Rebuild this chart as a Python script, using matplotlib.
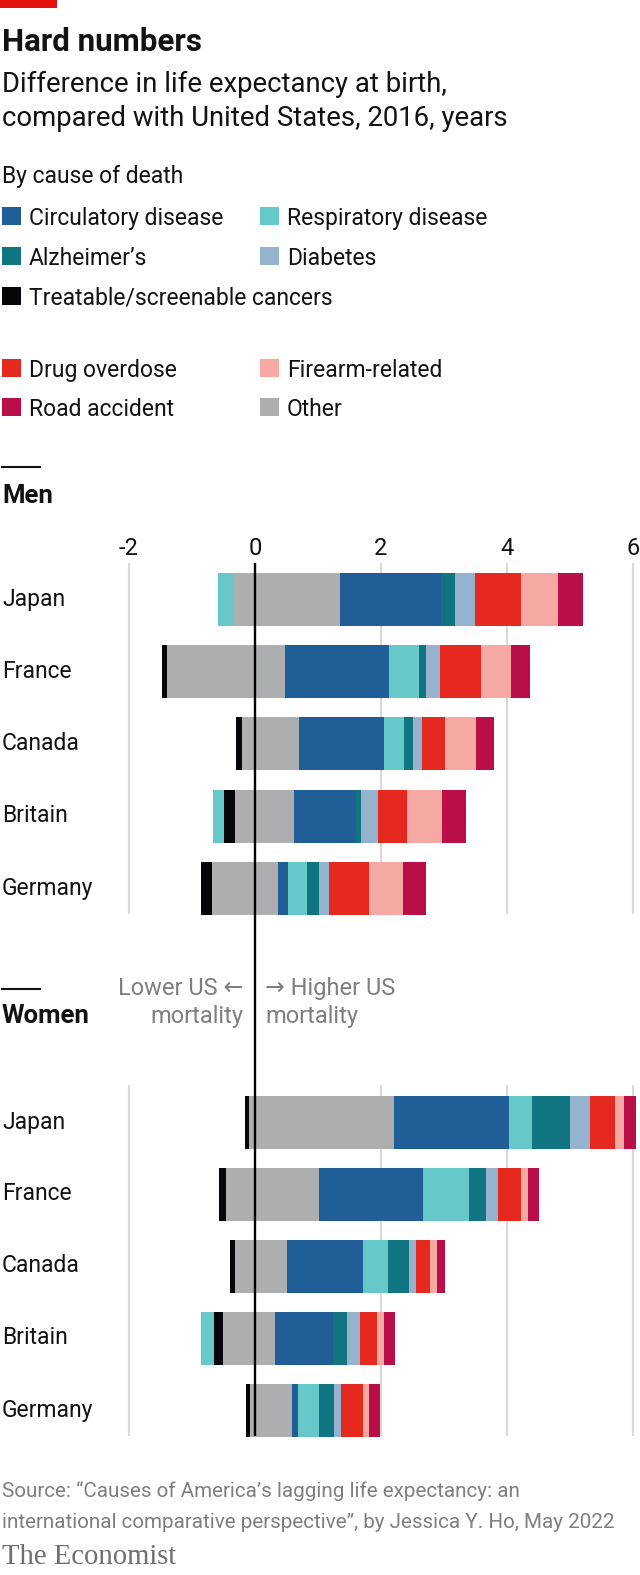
import matplotlib
matplotlib.use("Agg")
import matplotlib.pyplot as plt
from matplotlib.patches import Rectangle
from matplotlib.lines import Line2D
import numpy as np

plt.rcParams["font.family"] = ["Roboto", "DejaVu Sans"]

countries = ["Japan", "France", "Canada", "Britain", "Germany"]

# Men, years of life expectancy gap by cause
circulatory_m = [1.61, 1.65, 1.35, 0.98, 0.155]
respiratory_m = [-0.24, 0.47, 0.31, -0.18, 0.30]
alzheimers_m = [0.22, 0.11, 0.14, 0.09, 0.20]
diabetes_m = [0.31, 0.22, 0.15, 0.27, 0.16]
cancers_m = [0.0, -0.08, -0.10, -0.17, -0.17]
drugs_m = [0.73, 0.65, 0.37, 0.45, 0.63]
firearms_m = [0.59, 0.49, 0.49, 0.56, 0.54]
road_m = [0.39, 0.29, 0.29, 0.38, 0.36]
other_lower_m = [-0.34, -1.40, -0.20, -0.32, -0.69]
other_higher_m = [1.35, 0.48, 0.70, 0.62, 0.365]

# Women
circulatory_w = [1.82, 1.66, 1.20, 0.93, 0.11]
respiratory_w = [0.37, 0.72, 0.40, -0.20, 0.32]
alzheimers_w = [0.60, 0.27, 0.33, 0.22, 0.24]
diabetes_w = [0.31, 0.19, 0.12, 0.21, 0.12]
cancers_w = [-0.06, -0.11, -0.09, -0.14, -0.075]
drugs_w = [0.40, 0.37, 0.22, 0.26, 0.34]
firearms_w = [0.14, 0.11, 0.11, 0.11, 0.10]
road_w = [0.19, 0.17, 0.13, 0.19, 0.17]
other_lower_w = [-0.095, -0.46, -0.31, -0.51, -0.075]
other_higher_w = [2.21, 1.01, 0.51, 0.31, 0.58]

ticks = [-2, 0, 2, 4, 6]

C_CIRC = "#1f5e96"
C_RESP = "#67c8ca"
C_ALZ = "#107580"
C_DIAB = "#95b2ce"
C_CANC = "#06060a"
C_DRUG = "#e6291f"
C_FIRE = "#f6a8a2"
C_ROAD = "#b90e48"
C_OTHER = "#adaeb0"

legend_items = [
    ("Circulatory disease", C_CIRC), ("Respiratory disease", C_RESP),
    ("Alzheimer’s", C_ALZ), ("Diabetes", C_DIAB),
    ("Treatable/screenable cancers", C_CANC), None,
    ("Drug overdose", C_DRUG), ("Firearm-related", C_FIRE),
    ("Road accident", C_ROAD), ("Other", C_OTHER),
]

W, H = 640, 1575
fig = plt.figure(figsize=(W / 100, H / 100), dpi=100)


def fx(x):
    return x / W


def fy(y):
    return 1 - y / H


TXT = "#121212"
GREY_TXT = "#7f7f7f"
FS = 16.5

# header
fig.add_artist(Rectangle((0, fy(8)), fx(57), 8 / H, color="#e3120b",
                         transform=fig.transFigure, lw=0))
fig.text(fx(2), fy(51), "Hard numbers", fontsize=22.5, fontweight="bold",
         color=TXT, va="baseline")
fig.text(fx(2), fy(92), "Difference in life expectancy at birth,",
         fontsize=19.8, color=TXT, va="baseline")
fig.text(fx(2), fy(126), "compared with United States, 2016, years",
         fontsize=19.8, color=TXT, va="baseline")
fig.text(fx(2), fy(183), "By cause of death", fontsize=FS, color=TXT,
         va="baseline")

# legend
row_bottoms = [225, 265, 305, 377, 416]
col_x = [2, 260]
for k, item in enumerate(legend_items):
    if item is None:
        continue
    label, col = item
    r, c = divmod(k, 2)
    yb = row_bottoms[r]
    fig.add_artist(Rectangle((fx(col_x[c]), fy(yb)), fx(19), 18 / H,
                             color=col, transform=fig.transFigure, lw=0))
    fig.text(fx(col_x[c] + 27), fy(yb), label, fontsize=FS, color=TXT,
             va="baseline")

# panel headings
for y_line, y_text, name in [(467, 503, "Men"), (989, 1023, "Women")]:
    fig.add_artist(Line2D([fx(2), fx(40)], [fy(y_line), fy(y_line)],
                          color=TXT, lw=1.5, transform=fig.transFigure))
    fig.text(fx(2), fy(y_text), name, fontsize=18.5, fontweight="bold",
             color=TXT, va="baseline")

# main axes, y in pixel units
y_top, y_bot = 530, 1450
ax = fig.add_axes([0, fy(y_bot), 1, (y_bot - y_top) / H])
ax.set_xlim(-255 / 63, 385 / 63)
ax.set_ylim(y_bot, y_top)
ax.axis("off")

bar_h = 53
step = 72
panels = [
    (600, 563, 914, dict(circ=circulatory_m, resp=respiratory_m,
                         alz=alzheimers_m, diab=diabetes_m, canc=cancers_m,
                         drug=drugs_m, fire=firearms_m, road=road_m,
                         olow=other_lower_m, ohigh=other_higher_m)),
    (1122, 1085, 1436, dict(circ=circulatory_w, resp=respiratory_w,
                            alz=alzheimers_w, diab=diabetes_w,
                            canc=cancers_w, drug=drugs_w, fire=firearms_w,
                            road=road_w, olow=other_lower_w,
                            ohigh=other_higher_w)),
]

colors = dict(circ=C_CIRC, resp=C_RESP, alz=C_ALZ, diab=C_DIAB, canc=C_CANC,
              drug=C_DRUG, fire=C_FIRE, road=C_ROAD, olow=C_OTHER,
              ohigh=C_OTHER)
neg_order = ["olow", "canc", "resp"]
pos_order = ["ohigh", "circ", "resp", "alz", "diab", "canc", "drug", "fire",
             "road"]

for y0, g0, g1, d in panels:
    ax.vlines([t for t in ticks if t != 0], g0, g1, color="#d9d9d9",
              lw=1.5, zorder=0)
    ys = y0 + step * np.arange(len(countries))
    for i, country in enumerate(countries):
        left = 0.0
        for key in neg_order:
            v = d[key][i]
            if v < 0:
                ax.barh(ys[i], v, left=left, height=bar_h, color=colors[key],
                        lw=0, zorder=2)
                left += v
        right = 0.0
        for key in pos_order:
            v = d[key][i]
            if v > 0:
                ax.barh(ys[i], v, left=right, height=bar_h,
                        color=colors[key], lw=0, zorder=2)
                right += v
        ax.text(-253 / 63, ys[i], country, fontsize=FS, color=TXT,
                va="center", ha="left")

ax.vlines(0, 563, 1436, color="#000000", lw=1.7, zorder=5)

# tick labels (men panel only)
for t in ticks:
    ax.text(t, 555, "%d" % t, fontsize=17, color=TXT, ha="center",
            va="baseline")

# direction annotations
ax.text(-12 / 63, 995, "Lower US ←", fontsize=17, color=GREY_TXT,
        ha="right", va="baseline")
ax.text(-12 / 63, 1023, "mortality", fontsize=17, color=GREY_TXT,
        ha="right", va="baseline")
ax.text(10 / 63, 995, "→ Higher US", fontsize=17, color=GREY_TXT,
        ha="left", va="baseline")
ax.text(10 / 63, 1023, "mortality", fontsize=17, color=GREY_TXT,
        ha="left", va="baseline")

# footer
fig.text(fx(2), fy(1497), "Source: “Causes of America’s lagging life "
         "expectancy: an", fontsize=14.9, color=GREY_TXT, va="baseline")
fig.text(fx(2), fy(1528), "international comparative perspective”, by "
         "Jessica Y. Ho, May 2022", fontsize=14.9, color=GREY_TXT,
         va="baseline")
fig.text(fx(2), fy(1564), "The Economist", fontsize=20.6,
         family="Liberation Serif", color="#6f6f6f", va="baseline")

fig.savefig("out.png", dpi=100)
